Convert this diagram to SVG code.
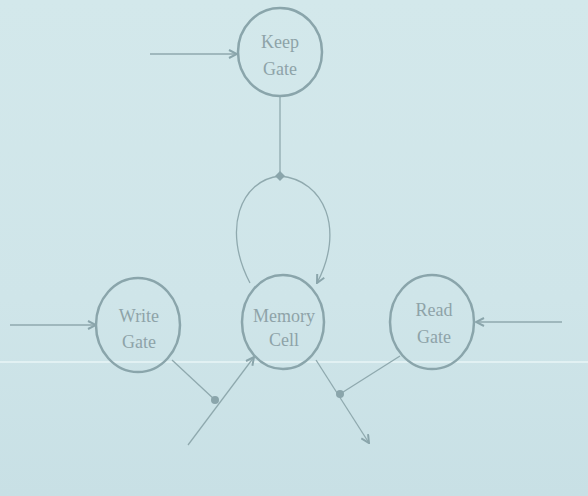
<svg xmlns="http://www.w3.org/2000/svg" width="588" height="496" viewBox="0 0 588 496">
<defs>
<linearGradient id="bg" x1="0" y1="0" x2="0" y2="1">
<stop offset="0" stop-color="#d3e8eb"/>
<stop offset="0.6" stop-color="#cfe5e9"/>
<stop offset="1" stop-color="#c8e0e5"/>
</linearGradient>
<marker id="arr" viewBox="0 0 10 10" refX="9" refY="5" markerWidth="10" markerHeight="10" markerUnits="userSpaceOnUse" orient="auto">
<path d="M1,1 L9,5 L1,9" fill="none" stroke="#8aa5ab" stroke-width="2"/>
</marker>
</defs>
<style>
.node ellipse{fill:none;stroke:#8aa5ab;stroke-width:2.5}
.node text{font-family:"Liberation Serif","DejaVu Serif",serif;font-size:18px;fill:#8ea3a8;text-anchor:middle}
.conn path,.conn line{fill:none;stroke:#8fa9ae;stroke-width:1.3}
.conn .dot{fill:#8aa5ab;stroke:none}
</style>
<rect width="588" height="496" fill="url(#bg)"/>
<line x1="0" y1="362" x2="588" y2="362" stroke="#e2f1f3" stroke-width="2"/>
<g class="conn">
<line x1="150" y1="54" x2="237" y2="54" marker-end="url(#arr)"/>
<line x1="280" y1="97" x2="280" y2="176"/>
<path d="M280,176 C240,180 222,230 250,283"/>
<path d="M280,176 C325,180 345,230 317,283" marker-end="url(#arr)"/>
<line x1="10" y1="325" x2="96" y2="325" marker-end="url(#arr)"/>
<line x1="172" y1="360" x2="215" y2="400"/>
<line x1="188" y1="445" x2="254" y2="357" marker-end="url(#arr)"/>
<line x1="562" y1="322" x2="476" y2="322" marker-end="url(#arr)"/>
<line x1="400" y1="356" x2="340" y2="394"/>
<line x1="316" y1="360" x2="369" y2="443" marker-end="url(#arr)"/>
<path class="dot" d="M280,171 L285,176 L280,181 L275,176 Z"/>
<circle class="dot" cx="215" cy="400" r="4"/>
<circle class="dot" cx="340" cy="394" r="4"/>
</g>
<g id="keep-gate" class="node">
<ellipse cx="280" cy="52" rx="42" ry="44"/>
<text x="280" y="48">Keep</text>
<text x="280" y="75">Gate</text>
</g>
<g id="memory-cell" class="node">
<ellipse cx="283" cy="322" rx="41" ry="47"/>
<text x="284" y="322">Memory</text>
<text x="284" y="346">Cell</text>
</g>
<g id="write-gate" class="node">
<ellipse cx="138" cy="325" rx="42" ry="47"/>
<text x="139" y="322">Write</text>
<text x="139" y="348">Gate</text>
</g>
<g id="read-gate" class="node">
<ellipse cx="432" cy="322" rx="42" ry="47"/>
<text x="434" y="316">Read</text>
<text x="434" y="343">Gate</text>
</g>
</svg>
